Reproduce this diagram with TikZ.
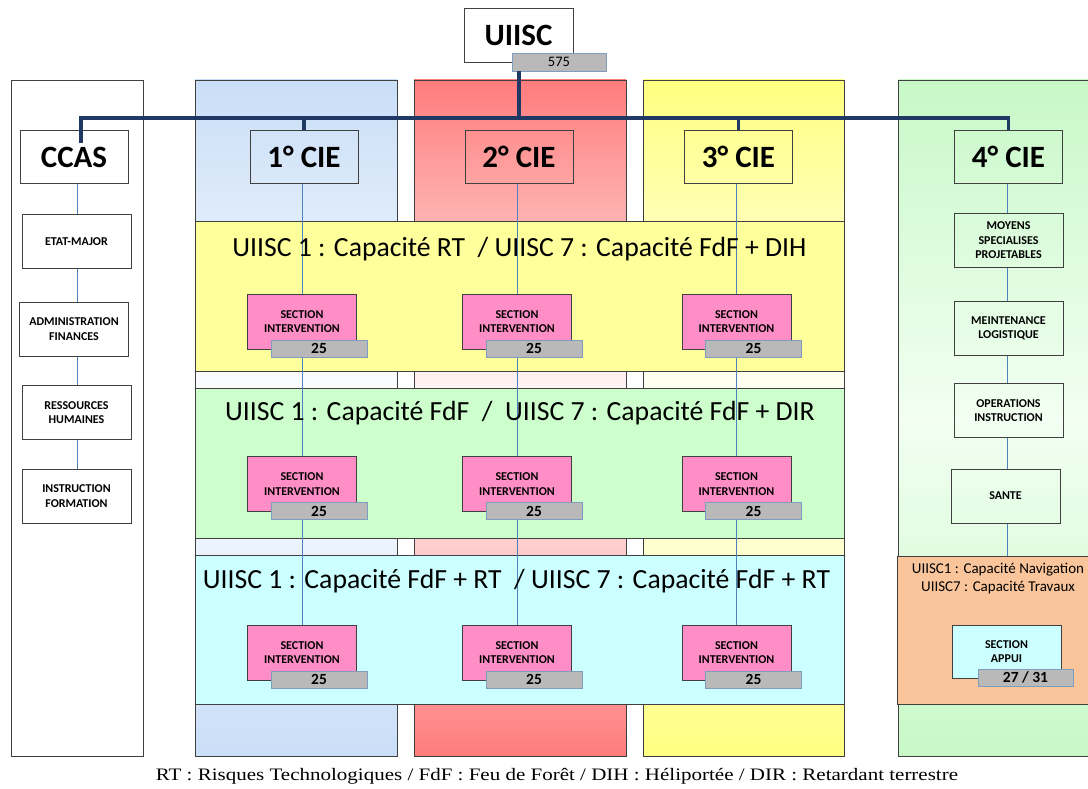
\documentclass[tikz,border=0pt]{standalone}
\usepackage{fontspec}
\setmainfont{Carlito}
\newfontfamily\legendfont{Liberation Serif}
\usetikzlibrary{calc}
\definecolor{trunkc}{HTML}{1F3864}
\definecolor{linkc}{HTML}{4F81BD}
\definecolor{bordc}{HTML}{404040}
\definecolor{colblue}{HTML}{C9DEF7}
\definecolor{colred}{HTML}{FF7C7C}
\definecolor{colyel}{HTML}{FFFF80}
\definecolor{colgrn}{HTML}{C8F8C8}
\definecolor{colgrnmid}{HTML}{F2FFF2}
\definecolor{bandyel}{HTML}{FFFF9C}
\definecolor{bandgrn}{HTML}{CCFFCC}
\definecolor{bandcya}{HTML}{CCFFFF}
\definecolor{bandora}{HTML}{FAC59A}
\definecolor{pinkc}{HTML}{FF8EC6}
\definecolor{tagc}{HTML}{B9B9B9}
\definecolor{tagb}{HTML}{7F9DBF}
\pgfdeclarelayer{bg}
\pgfdeclarelayer{lines}
\pgfsetlayers{bg,lines,main}
\begin{document}
\begin{tikzpicture}[x=1pt,y=-1pt,
 colrect/.style={draw=bordc, line width=0.8pt},
 band/.style={draw=bordc, line width=0.8pt, inner sep=0pt},
 cie/.style={draw=bordc, line width=0.8pt, minimum width=108pt, minimum height=53pt, inner sep=0pt, font=\fontsize{31}{32}\selectfont\bfseries},
 unit/.style={draw=bordc, line width=0.8pt, minimum width=109pt, minimum height=54pt, inner sep=0pt, align=center, font=\fontsize{12}{14.5}\selectfont\bfseries},
 sect/.style={unit, fill=pinkc, minimum height=55pt},
 tag/.style={draw=tagb, fill=tagc, line width=0.8pt, minimum width=96pt, minimum height=17pt, inner sep=0pt, font=\fontsize{15.5}{16}\selectfont\bfseries},
 link/.style={draw=linkc, line width=0.7pt},
 trunk/.style={draw=trunkc, line width=3.5pt},
 bandtxt/.style={font=\fontsize{27.7}{28}\selectfont, inner sep=0pt}
]
\useasboundingbox (0,0) rectangle (1088,789);
\begin{pgfonlayer}{bg}
\fill[white] (0,0) rectangle (1088,789);
% columns
\draw[colrect, fill=white] (11,80) rectangle (143,756);
\draw[colrect, top color=colblue, bottom color=colblue, middle color=white] (195,80) rectangle (397,756);
\draw[colrect, top color=colred, bottom color=colred, middle color=white] (414,80) rectangle (626,756);
\draw[colrect, top color=colyel, bottom color=colyel, middle color=white] (643,80) rectangle (844,756);
\draw[colrect, top color=colgrn, bottom color=colgrn, middle color=colgrnmid] (898,80) rectangle (1094,756);
% bands
\node[band, fill=bandyel, minimum width=649pt, minimum height=150pt] (b1) at (519.5,296) {};
\node[band, fill=bandgrn, minimum width=649pt, minimum height=150pt] (b2) at (519.5,463) {};
\node[band, fill=bandcya, minimum width=649pt, minimum height=149pt] (b3) at (519.5,629.5) {};
\node[band, fill=bandora, minimum width=196pt, minimum height=148pt] (b4) at (995,630) {};
\end{pgfonlayer}

% band texts
\node[bandtxt] (t1) at (519.5,249) {UIISC 1 : Capacité RT \ / UIISC 7 : Capacité FdF + DIH};
\node[bandtxt] (t2) at (520,413) {UIISC 1 : Capacité FdF \ / \ UIISC 7 : Capacité FdF + DIR};
\node[bandtxt] (t3) at (516.5,581) {UIISC 1 : Capacité FdF + RT \ / UIISC 7 : Capacité FdF + RT};
\node[inner sep=0pt, align=center, font=\fontsize{15}{18}\selectfont] (t4) at (998,579) {UIISC1 : Capacité Navigation\\UIISC7 : Capacité Travaux};

% top
\node[cie, fill=white, minimum width=109pt, minimum height=54pt] (uiisc) at (518.5,35) {UIISC};
\node[tag, minimum width=94pt, minimum height=18pt, font=\fontsize{14.5}{15}\selectfont] (n575) at (559,62) {575};

\node[cie] (ccas) at (74,157) {CCAS};
\node[cie] (cie1) at (304,156.5) {1° CIE};
\node[cie] (cie2) at (519,156.5) {2° CIE};
\node[cie] (cie3) at (738.5,156.5) {3° CIE};
\node[cie] (cie4) at (1008.5,157) {4° CIE};

% CCAS column
\node[unit] (etat) at (76.5,241.5) {ETAT-MAJOR};
\node[unit] (admin) at (74,329) {ADMINISTRATION\\FINANCES};
\node[unit] (ress) at (76.5,412.5) {RESSOURCES\\HUMAINES};
\node[unit] (instr) at (76.5,496) {INSTRUCTION\\FORMATION};

% 4th column
\node[unit] (moy) at (1008.5,240.5) {MOYENS\\SPECIALISES\\PROJETABLES};
\node[unit] (maint) at (1008.5,328.5) {MEINTENANCE\\LOGISTIQUE};
\node[unit] (oper) at (1008.5,410.5) {OPERATIONS\\INSTRUCTION};
\node[unit] (sante) at (1005.5,496) {SANTE};
\node[unit, fill=bandcya, minimum height=53pt] (appui) at (1006.5,651.5) {SECTION\\APPUI};
\node[tag, minimum width=95pt] (tappui) at (1025.5,677.5) {27 / 31};

% sections
\foreach \c/\x in {1/302,2/517,3/736.5}{
  \foreach \r/\y in {1/321.5,2/484,3/652.5}{
    \node[sect] (s\r\c) at (\x,\y) {SECTION\\INTERVENTION};
    \node[tag] (g\r\c) at ($(s\r\c.center)+(17,27)$) {25};
  }
}

% links
\begin{pgfonlayer}{lines}
\coordinate (cx) at (77,0);
\coordinate (fx) at (1007,0);
\draw[link] (ccas.south -| cx) -- (etat.north -| cx);
\draw[link] (etat.south -| cx) -- (admin.north -| cx);
\draw[link] (admin.south -| cx) -- (ress.north -| cx);
\draw[link] (ress.south -| cx) -- (instr.north -| cx);
\draw[link] (cie4.south -| fx) -- (moy.north -| fx);
\draw[link] (moy.south -| fx) -- (maint.north -| fx);
\draw[link] (maint.south -| fx) -- (oper.north -| fx);
\draw[link] (oper.south -| fx) -- (sante.north -| fx);
\draw[link] (sante.south -| fx) -- (b4.north -| fx);
\foreach \c/\k in {1/cie1,2/cie2,3/cie3}{
  \draw[link] (s1\c.north |- \k.south) -- (s1\c.north);
  \draw[link] (s1\c.north |- g1\c.south) -- (s2\c.north);
  \draw[link] (s2\c.north |- g2\c.south) -- (s3\c.north);
}
\end{pgfonlayer}

% trunk
\coordinate (tl) at (81,118);
\draw[trunk] (ccas.north -| tl) ++(0,13) -- (tl) -- (tl -| cie4.north) -- (cie4.north);
\draw[trunk] (n575.south -| cie2.north) -- (tl -| cie2.north);
\draw[trunk] (cie1.north) -- (cie1.north |- tl);
\draw[trunk] (cie3.north) -- (cie3.north |- tl);

% legend
\node[inner sep=0pt, font=\legendfont\fontsize{17.5}{18}\selectfont] (legend) at (557,776) {\scalebox{1.2}[1]{RT : Risques Technologiques / FdF : Feu de Forêt / DIH : Héliportée / DIR : Retardant terrestre}};
\end{tikzpicture}
\end{document}
